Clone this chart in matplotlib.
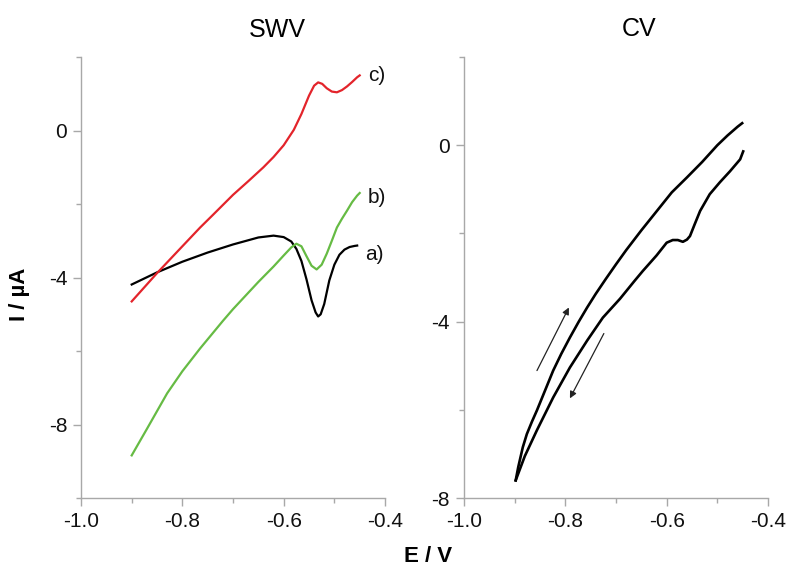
import numpy as np
import matplotlib
matplotlib.use("Agg")
import matplotlib.pyplot as plt
from matplotlib.ticker import MultipleLocator, FormatStrFormatter

plt.rcParams['font.family'] = 'Liberation Sans'
plt.rcParams['axes.unicode_minus'] = False

# --- SWV curves (E in V, I in uA) ---
E_a = [-0.90, -0.85, -0.80, -0.75, -0.70, -0.65, -0.62, -0.60, -0.585, -0.575, -0.565, -0.555,
       -0.545, -0.537, -0.532, -0.527, -0.52, -0.51, -0.50, -0.49, -0.48, -0.47, -0.46, -0.455]
I_a = [-4.19, -3.86, -3.57, -3.32, -3.10, -2.91, -2.86, -2.90, -3.02, -3.22, -3.55, -4.05,
       -4.62, -4.95, -5.06, -5.00, -4.72, -4.08, -3.65, -3.38, -3.24, -3.17, -3.14, -3.13]

E_b = [-0.90, -0.87, -0.83, -0.80, -0.765, -0.75, -0.72, -0.70, -0.65, -0.62, -0.60, -0.585,
       -0.575, -0.565, -0.555, -0.545, -0.535, -0.525, -0.515, -0.505, -0.495, -0.485, -0.475,
       -0.465, -0.455, -0.45]
I_b = [-8.84, -8.12, -7.15, -6.55, -5.93, -5.68, -5.18, -4.86, -4.12, -3.70, -3.40, -3.18,
       -3.08, -3.15, -3.42, -3.68, -3.78, -3.65, -3.35, -3.00, -2.64, -2.40, -2.18,
       -1.95, -1.77, -1.70]

E_c = [-0.90, -0.85, -0.80, -0.765, -0.74, -0.70, -0.67, -0.64, -0.62, -0.60, -0.58, -0.565,
       -0.55, -0.54, -0.532, -0.524, -0.515, -0.505, -0.495, -0.485, -0.475, -0.465, -0.455, -0.45]
I_c = [-4.65, -3.88, -3.15, -2.64, -2.30, -1.75, -1.38, -1.00, -0.72, -0.40, 0.02, 0.45,
       0.95, 1.22, 1.31, 1.27, 1.15, 1.06, 1.04, 1.10, 1.20, 1.32, 1.45, 1.50]

swv_labels = ['a)', 'b)', 'c)']

# --- CV branches ---
E_fwd = [-0.898, -0.893, -0.888, -0.884, -0.876, -0.866, -0.856, -0.84, -0.824, -0.808, -0.791,
         -0.774, -0.757, -0.74, -0.72, -0.70, -0.68, -0.65, -0.62, -0.59, -0.56, -0.53, -0.50,
         -0.48, -0.46, -0.451]
I_fwd = [-7.60, -7.30, -7.05, -6.85, -6.55, -6.27, -6.01, -5.56, -5.11, -4.73, -4.36,
         -4.01, -3.68, -3.37, -3.03, -2.70, -2.38, -1.93, -1.50, -1.07, -0.73, -0.38, 0.00,
         0.22, 0.42, 0.50]

E_rev = [-0.898, -0.88, -0.856, -0.824, -0.791, -0.757, -0.726, -0.692, -0.663, -0.647, -0.62,
         -0.60, -0.588, -0.578, -0.568, -0.56, -0.554, -0.545, -0.534, -0.515, -0.495, -0.475,
         -0.455, -0.449]
I_rev = [-7.60, -7.05, -6.46, -5.72, -5.04, -4.43, -3.91, -3.48, -3.07, -2.85, -2.50,
         -2.21, -2.15, -2.15, -2.19, -2.14, -2.06, -1.80, -1.49, -1.11, -0.84, -0.59,
         -0.32, -0.14]

# scan direction arrows (start, end)
arrow_up = ((-0.856, -5.11), (-0.793, -3.68))
arrow_down = ((-0.724, -4.27), (-0.791, -5.74))

fig = plt.figure(figsize=(7.89, 5.68), dpi=100)
ax1 = fig.add_axes([0.1027, 0.1232, 0.3853, 0.7764])
ax2 = fig.add_axes([0.5881, 0.1232, 0.3853, 0.7764])

ax1.plot(E_a, I_a, color='black', lw=1.6)
ax1.plot(E_b, I_b, color='#66bb44', lw=1.6)
ax1.plot(E_c, I_c, color='#e3242b', lw=1.6)

offsets = [(6, -6.5), (6, -3), (6, 0)]
for lab, E, I, off in zip(swv_labels, [E_a, E_b, E_c], [I_a, I_b, I_c], offsets):
    ax1.annotate(lab, (E[-1], I[-1]), xytext=off, textcoords='offset points',
                 va='center', ha='left', fontsize=15, color='#111111')

ax2.plot(E_fwd, I_fwd, color='black', lw=1.9)
ax2.plot(E_rev, I_rev, color='black', lw=1.9)
for (p0, p1) in [arrow_up, arrow_down]:
    ax2.annotate('', xy=p1, xytext=p0,
                 arrowprops=dict(arrowstyle='-|>', color='#222222', lw=0.9,
                                 mutation_scale=10, shrinkA=0, shrinkB=0))

ax1.set_ylim(-10, 2)
ax2.set_ylim(-8, 2)

for ax in (ax1, ax2):
    ax.set_xlim(-1.0, -0.4)
    ax.xaxis.set_major_locator(MultipleLocator(0.2))
    ax.xaxis.set_minor_locator(MultipleLocator(0.1))
    ax.xaxis.set_major_formatter(FormatStrFormatter('%.1f'))
    ax.yaxis.set_major_locator(MultipleLocator(4))
    ax.yaxis.set_minor_locator(MultipleLocator(2))
    for s in ('top', 'right'):
        ax.spines[s].set_visible(False)
    for s in ('left', 'bottom'):
        ax.spines[s].set_color('#a8a8a8')
        ax.spines[s].set_linewidth(1.0)
    ax.tick_params(which='major', direction='out', length=6, width=1.0,
                   color='#a8a8a8', labelsize=15, labelcolor='#111111', pad=4)
    ax.tick_params(which='minor', direction='out', length=3.5, width=1.0, color='#a8a8a8')

fig.text(0.351, 0.948, 'SWV', fontsize=18, ha='center', va='center')
fig.text(0.810, 0.949, 'CV', fontsize=18, ha='center', va='center')
fig.text(0.5425, 0.0194, 'E / V', fontsize=16, fontweight='bold', ha='center', va='center')
fig.text(0.0253, 0.4824, 'I / \u00b5A', fontsize=16, fontweight='bold', ha='center',
         va='center', rotation=90)

fig.savefig('out.png', dpi=100)
